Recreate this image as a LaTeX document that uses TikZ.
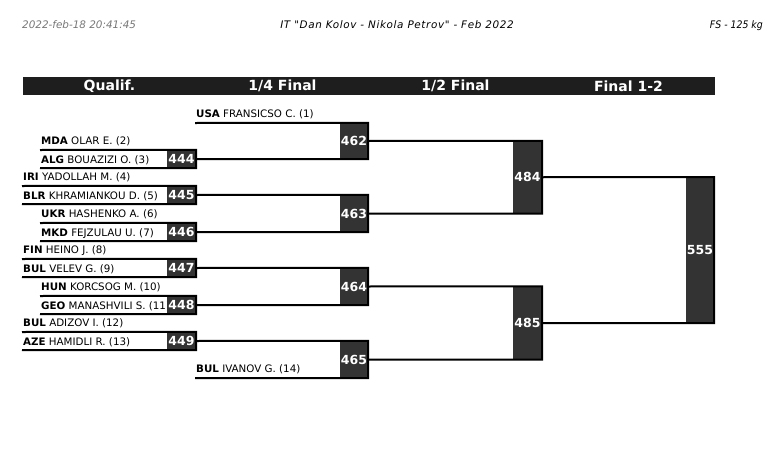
\documentclass[tikz,border=0pt]{standalone}
\usepackage{fontspec}
\setmainfont{DejaVu Sans}
\newfontfamily\condfont{DejaVu Sans Condensed}
\newfontfamily\spacedfont[LetterSpace=6]{DejaVu Sans}
\usepackage{xcolor}
\usepackage{tikz}
\definecolor{boxgray}{HTML}{333333}
\definecolor{barblack}{HTML}{1E1E1E}
\definecolor{stampgray}{HTML}{777777}
\tikzset{
  wire/.style={line width=2pt,line join=miter,line cap=rect},
  bBox/.style={fill=boxgray,text=white,inner sep=0pt,minimum width=29pt,
        font=\fontsize{12.5}{12.5}\selectfont\bfseries},
  bQual/.style={bBox,minimum height=18pt},
  nm/.style={anchor=base west,inner sep=0pt,font=\fontsize{10.3}{12}\selectfont},
  colHead/.style={fill=barblack,text=white,inner sep=0pt,minimum width=173pt,
        minimum height=18pt,font=\fontsize{14}{14}\selectfont\bfseries},
  topText/.style={inner sep=0pt,font=\itshape\fontsize{10.4}{12}\selectfont},
}

\begin{document}
\begin{tikzpicture}[x=1pt,y=-1pt]
\useasboundingbox (0,0) rectangle (769,463);
% page head
\node[topText,anchor=base west,text=stampgray] (stamp) at (22,28.5) {2022-feb-18 20:41:45};
\node[topText,anchor=base,font=\spacedfont\itshape\fontsize{10.4}{12}\selectfont] (event) at (397,28.5) {IT "Dan Kolov - Nikola Petrov" - Feb 2022};
\node[topText,anchor=base east,font=\condfont\itshape\fontsize{10.4}{12}\selectfont] (cat) at (763,28.5) {FS - 125 kg};
% column heads
\node[colHead] (h1) at (109.5,86) {Qualif.};
\node[colHead] (h2) at (282.5,86) {1/4 Final};
\node[colHead] (h3) at (455.5,86) {1/2 Final};
\node[colHead] (h4) at (628.5,86) {Final 1-2};
% line starts under the names
\coordinate (s1) at (196,123);
\coordinate (s2) at (41,150);
\coordinate (s3) at (41,168);
\coordinate (s4) at (23,186);
\coordinate (s5) at (23,204);
\coordinate (s6) at (41,223);
\coordinate (s7) at (41,241);
\coordinate (s8) at (23,259);
\coordinate (s9) at (23,277);
\coordinate (s10) at (41,296);
\coordinate (s11) at (41,314);
\coordinate (s12) at (23,332);
\coordinate (s13) at (23,350);
\coordinate (s14) at (196,378);
% wrestlers
\node[nm] (n1) at ([yshift=5.5pt]s1) {\textbf{USA} FRANSICSO C. (1)};
\node[nm] (n2) at ([yshift=5.5pt]s2) {\textbf{MDA} OLAR E. (2)};
\node[nm] (n3) at ([yshift=5pt]s3) {\textbf{ALG} BOUAZIZI O. (3)};
\node[nm] (n4) at ([yshift=5.5pt]s4) {\textbf{IRI} YADOLLAH M. (4)};
\node[nm] (n5) at ([yshift=5pt]s5) {\textbf{BLR} KHRAMIANKOU D. (5)};
\node[nm] (n6) at ([yshift=5.5pt]s6) {\textbf{UKR} HASHENKO A. (6)};
\node[nm] (n7) at ([yshift=5pt]s7) {\textbf{MKD} FEJZULAU U. (7)};
\node[nm] (n8) at ([yshift=5.5pt]s8) {\textbf{FIN} HEINO J. (8)};
\node[nm] (n9) at ([yshift=5pt]s9) {\textbf{BUL} VELEV G. (9)};
\node[nm] (n10) at ([yshift=5.5pt]s10) {\textbf{HUN} KORCSOG M. (10)};
\node[nm] (n11) at ([yshift=5pt]s11) {\textbf{GEO} MANASHVILI S. (11)};
\node[nm] (n12) at ([yshift=5.5pt]s12) {\textbf{BUL} ADIZOV I. (12)};
\node[nm] (n13) at ([yshift=5pt]s13) {\textbf{AZE} HAMIDLI R. (13)};
\node[nm] (n14) at ([yshift=5.5pt]s14) {\textbf{BUL} IVANOV G. (14)};
% bouts
\node[bQual] (m444) at (181.5,159) {444};
\node[bQual] (m445) at (181.5,195) {445};
\node[bQual] (m446) at (181.5,232) {446};
\node[bQual] (m447) at (181.5,268) {447};
\node[bQual] (m448) at (181.5,305) {448};
\node[bQual] (m449) at (181.5,341) {449};
\node[bBox,minimum width=28pt,minimum height=36pt] (m462) at (354,141) {462};
\node[bBox,minimum width=28pt,minimum height=37pt] (m463) at (354,213.5) {463};
\node[bBox,minimum width=28pt,minimum height=37pt] (m464) at (354,286.5) {464};
\node[bBox,minimum width=28pt,minimum height=37pt] (m465) at (354,359.5) {465};
\node[bBox,minimum height=72.5pt] (m484) at (527.5,177.25) {484};
\node[bBox,minimum height=73pt] (m485) at (527.5,323) {485};
\node[bBox,minimum width=28pt,minimum height=145.75pt] (m555) at (700,250.125) {555};
% brackets
\draw[wire] (s2) -- (m444.north east) -- (m444.south east) -- (s3);
\draw[wire] (s4) -- (m445.north east) -- (m445.south east) -- (s5);
\draw[wire] (s6) -- (m446.north east) -- (m446.south east) -- (s7);
\draw[wire] (s8) -- (m447.north east) -- (m447.south east) -- (s9);
\draw[wire] (s10) -- (m448.north east) -- (m448.south east) -- (s11);
\draw[wire] (s12) -- (m449.north east) -- (m449.south east) -- (s13);
\draw[wire] (s1) -- (m462.north east) -- (m462.south east) -- (m444.east);
\draw[wire] (m445.east) -- (m463.north east) -- (m463.south east) -- (m446.east);
\draw[wire] (m447.east) -- (m464.north east) -- (m464.south east) -- (m448.east);
\draw[wire] (m449.east) -- (m465.north east) -- (m465.south east) -- (s14);
\draw[wire] (m462.east) -- (m484.north east) -- (m484.south east) -- (m463.east);
\draw[wire] (m464.east) -- (m485.north east) -- (m485.south east) -- (m465.east);
\draw[wire] (m484.east) -- (m555.north east) -- (m555.south east) -- (m485.east);
\end{tikzpicture}
\end{document}
